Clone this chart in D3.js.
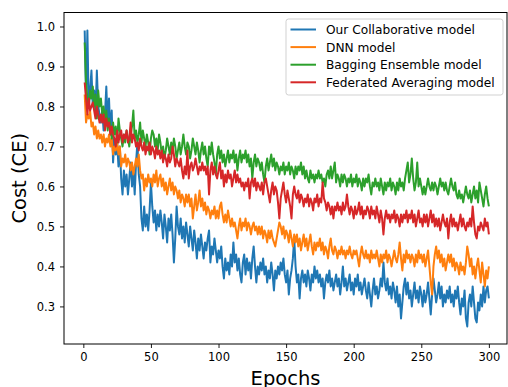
<!DOCTYPE html>
<html>
<head>
<meta charset="utf-8">
<script src="https://cdn.jsdelivr.net/npm/d3@7"></script>
<style>
  body { margin: 0; background: #fff; }
  text { font-family: "DejaVu Sans", sans-serif; }
</style>
</head>
<body>
<div id="chart"></div>
<script>
// Series names, colours and tick labels
const seriesNames = ['Our Collaborative model', 'DNN model', 'Bagging Ensemble model', 'Federated Averaging model']
const seriesColors = ['#1f77b4', '#ff7f0e', '#2ca02c', '#d62728']
const xTicks = [0, 50, 100, 150, 200, 250, 300]
const yTicks = [0.3, 0.4, 0.5, 0.6, 0.7, 0.8, 0.9, 1.0]

// Cost per epoch (1..300)
const collabCost = [
  .99,.82,.99,.80,.84,.89,.80,.84,.78,.89,
  .80,.78,.76,.79,.74,.78,.85,.76,.82,.73,
  .79,.66,.72,.68,.71,.65,.70,.62,.58,.64,
  .60,.63,.58,.62,.66,.60,.64,.58,.66,.71,
  .63,.60,.52,.49,.55,.50,.53,.49,.54,.61,
  .55,.51,.54,.49,.53,.50,.54,.51,.47,.53,
  .50,.46,.52,.49,.53,.48,.41,.47,.55,.50,
  .48,.52,.47,.50,.46,.51,.48,.45,.50,.47,
  .44,.49,.46,.42,.47,.44,.48,.45,.42,.46,
  .44,.47,.49,.41,.45,.43,.47,.44,.41,.44,
  .42,.45,.40,.37,.42,.39,.41,.38,.43,.40,
  .46,.41,.43,.39,.42,.38,.36,.41,.43,.38,
  .42,.39,.41,.37,.42,.45,.40,.36,.40,.38,
  .41,.39,.42,.38,.40,.36,.39,.37,.41,.38,
  .34,.39,.37,.40,.38,.41,.39,.42,.38,.36,
  .39,.33,.37,.39,.42,.47,.40,.36,.38,.32,
  .37,.39,.36,.38,.35,.39,.37,.34,.38,.36,
  .40,.37,.39,.36,.38,.35,.37,.32,.36,.38,
  .36,.39,.35,.37,.34,.36,.38,.35,.37,.33,
  .36,.40,.35,.37,.34,.36,.38,.34,.36,.33,
  .37,.35,.38,.34,.36,.33,.35,.37,.34,.32,
  .36,.33,.30,.34,.37,.33,.35,.32,.34,.37,
  .35,.41,.36,.34,.37,.33,.35,.32,.36,.34,
  .31,.35,.30,.33,.27,.31,.35,.37,.33,.36,
  .32,.34,.30,.33,.36,.32,.34,.31,.35,.33,
  .30,.34,.31,.33,.36,.32,.28,.33,.37,.34,
  .31,.33,.36,.32,.35,.30,.33,.31,.34,.32,
  .35,.31,.33,.30,.34,.32,.35,.31,.28,.32,
  .30,.34,.27,.25,.31,.33,.30,.35,.31,.27,
  .26,.31,.29,.33,.30,.35,.31,.34,.35,.32
]
const dnnCost = [
  .83,.76,.78,.77,.79,.75,.76,.73,.75,.72,
  .74,.72,.73,.71,.73,.70,.72,.71,.73,.70,
  .72,.68,.70,.69,.71,.68,.70,.65,.67,.66,
  .68,.65,.67,.66,.64,.66,.63,.65,.67,.65,
  .68,.64,.62,.63,.59,.62,.60,.63,.61,.62,
  .60,.63,.61,.64,.60,.62,.63,.60,.62,.59,
  .61,.58,.60,.62,.59,.61,.58,.60,.59,.57,
  .59,.56,.58,.57,.55,.58,.56,.58,.55,.57,
  .52,.55,.58,.54,.56,.59,.55,.57,.54,.56,
  .53,.55,.54,.52,.54,.53,.55,.52,.54,.52,
  .55,.56,.53,.51,.53,.51,.54,.52,.50,.52,
  .50,.51,.49,.47,.50,.52,.49,.51,.50,.52,
  .49,.51,.50,.48,.50,.51,.49,.50,.48,.50,
  .48,.50,.47,.49,.48,.46,.49,.47,.49,.47,
  .46,.45,.47,.49,.51,.50,.48,.50,.47,.49,
  .48,.46,.49,.47,.45,.48,.46,.48,.45,.47,
  .44,.46,.48,.45,.47,.44,.46,.48,.45,.43,
  .46,.44,.46,.45,.47,.44,.46,.43,.45,.44,
  .42,.45,.47,.44,.43,.45,.44,.42,.44,.43,
  .45,.43,.44,.42,.44,.43,.45,.43,.42,.44,
  .43,.44,.42,.40,.43,.45,.43,.42,.44,.42,
  .43,.41,.44,.42,.43,.42,.44,.42,.40,.43,
  .41,.43,.42,.44,.41,.43,.42,.40,.42,.44,
  .42,.41,.43,.46,.42,.39,.43,.41,.44,.42,
  .43,.41,.43,.42,.40,.43,.41,.44,.42,.43,
  .41,.43,.40,.42,.44,.40,.36,.33,.40,.43,
  .45,.42,.44,.41,.43,.40,.42,.39,.41,.43,
  .41,.43,.40,.42,.39,.41,.40,.38,.41,.39,
  .40,.38,.41,.45,.43,.40,.42,.38,.40,.37,
  .40,.42,.39,.36,.41,.38,.35,.39,.37,.40
]
const baggingCost = [
  .96,.86,.82,.80,.84,.82,.85,.80,.83,.77,
  .84,.80,.82,.78,.80,.76,.79,.74,.77,.75,
  .72,.76,.73,.75,.71,.77,.74,.72,.70,.73,
  .71,.74,.72,.70,.73,.75,.79,.72,.74,.71,
  .73,.76,.71,.74,.72,.70,.73,.71,.68,.72,
  .74,.73,.70,.72,.69,.73,.71,.68,.70,.67,
  .69,.72,.70,.68,.71,.69,.72,.70,.67,.69,
  .71,.68,.70,.73,.70,.68,.71,.70,.67,.69,
  .72,.70,.68,.71,.69,.66,.69,.71,.68,.70,
  .67,.65,.70,.68,.71,.68,.66,.63,.68,.70,
  .67,.69,.66,.68,.65,.67,.69,.66,.68,.67,
  .69,.66,.68,.64,.67,.69,.66,.68,.67,.69,
  .66,.68,.65,.67,.62,.66,.68,.65,.67,.66,
  .64,.66,.63,.61,.65,.67,.64,.66,.68,.65,
  .67,.64,.66,.65,.63,.65,.64,.66,.63,.65,
  .64,.66,.63,.65,.64,.62,.65,.63,.65,.64,
  .66,.63,.65,.62,.64,.62,.61,.64,.62,.63,
  .61,.63,.62,.64,.62,.63,.61,.62,.60,.63,
  .64,.62,.65,.62,.64,.66,.61,.63,.62,.60,
  .63,.61,.63,.62,.60,.62,.61,.63,.60,.62,
  .61,.63,.60,.62,.61,.59,.62,.60,.62,.61,
  .63,.60,.58,.61,.60,.62,.60,.61,.59,.62,
  .60,.58,.61,.59,.61,.60,.62,.59,.61,.60,
  .58,.61,.59,.62,.60,.61,.59,.62,.64,.66,
  .61,.63,.67,.62,.59,.61,.66,.60,.62,.60,
  .58,.60,.58,.60,.62,.60,.59,.61,.59,.61,
  .60,.58,.60,.62,.60,.61,.59,.61,.59,.58,
  .60,.62,.60,.59,.61,.58,.57,.59,.57,.58,
  .56,.58,.60,.58,.57,.59,.56,.58,.60,.57,
  .59,.56,.61,.59,.57,.55,.58,.60,.57,.55
]
const fedAvgCost = [
  .86,.82,.78,.82,.79,.80,.81,.79,.77,.80,
  .78,.76,.78,.76,.78,.74,.77,.75,.76,.73,
  .75,.73,.72,.70,.74,.71,.73,.74,.71,.73,
  .72,.74,.71,.72,.76,.71,.73,.72,.70,.71,
  .69,.72,.70,.69,.71,.68,.70,.69,.71,.68,
  .70,.69,.67,.70,.68,.69,.67,.69,.66,.68,
  .67,.65,.68,.66,.67,.70,.68,.65,.67,.66,
  .65,.67,.64,.62,.65,.63,.69,.62,.65,.66,
  .64,.65,.67,.65,.63,.65,.64,.66,.64,.65,
  .63,.65,.58,.64,.66,.63,.65,.63,.62,.64,
  .66,.62,.64,.60,.63,.61,.64,.62,.63,.60,
  .62,.64,.61,.63,.61,.62,.60,.61,.59,.61,
  .60,.62,.57,.61,.62,.60,.62,.59,.61,.60,
  .59,.61,.58,.61,.62,.60,.58,.56,.59,.61,
  .58,.60,.59,.56,.52,.57,.59,.61,.58,.56,
  .59,.57,.55,.52,.58,.60,.58,.57,.59,.56,
  .58,.57,.55,.57,.56,.58,.55,.57,.56,.54,
  .57,.56,.58,.55,.57,.56,.61,.57,.56,.54,
  .56,.55,.53,.55,.52,.55,.54,.56,.54,.55,
  .53,.56,.54,.55,.58,.55,.53,.55,.54,.52,
  .55,.53,.54,.56,.53,.55,.52,.54,.53,.55,
  .54,.52,.55,.53,.54,.52,.55,.53,.51,.54,
  .52,.48,.52,.54,.52,.53,.51,.53,.52,.54,
  .51,.53,.52,.50,.53,.51,.53,.52,.54,.51,
  .53,.52,.54,.51,.53,.50,.52,.54,.51,.52,
  .50,.53,.51,.53,.50,.52,.54,.51,.53,.50,
  .52,.50,.52,.49,.51,.53,.51,.50,.52,.47,
  .51,.53,.50,.52,.50,.51,.49,.51,.53,.50,
  .52,.50,.49,.51,.50,.52,.50,.55,.51,.48,
  .47,.50,.49,.51,.50,.49,.52,.50,.51,.48
]
const allSeries = [collabCost, dnnCost, baggingCost, fedAvgCost]

// canvas
const width = 508,
  height = 387
const plot = { left: 64, right: 507, top: 12.5, bottom: 344 }

const svg = d3.select('#chart')
  .append('svg')
  .attr('width', width)
  .attr('height', height)

const x = d3.scaleLinear().domain([-14.3, 313.4]).range([plot.left, plot.right])
const y = d3.scaleLinear().domain([0.206, 1.035]).range([plot.bottom, plot.top])

svg.append('clipPath')
  .attr('id', 'clip')
  .append('rect')
  .attr('x', plot.left)
  .attr('y', plot.top)
  .attr('width', plot.right - plot.left)
  .attr('height', plot.bottom - plot.top)

// lines
const line = d3.line()
  .x((d, i) => x(i + 1))
  .y(d => y(d))

svg.append('g')
  .attr('clip-path', 'url(#clip)')
  .selectAll('path')
  .data(allSeries)
  .enter()
  .append('path')
  .attr('d', line)
  .attr('fill', 'none')
  .attr('stroke', (d, i) => seriesColors[i])
  .attr('stroke-width', 2)
  .attr('stroke-linejoin', 'round')

// axes
const xAxis = svg.append('g')
  .attr('transform', `translate(0, ${plot.bottom})`)
  .call(d3.axisBottom(x).tickValues(xTicks).tickSize(4).tickPadding(5).tickSizeOuter(0))
const yAxis = svg.append('g')
  .attr('transform', `translate(${plot.left}, 0)`)
  .call(d3.axisLeft(y).tickValues(yTicks).tickFormat(d3.format('.1f')).tickSize(4).tickPadding(5).tickSizeOuter(0))

for (const ax of [xAxis, yAxis]) {
  ax.select('.domain').remove()
  ax.selectAll('text').attr('font-size', 11.5).attr('font-family', 'DejaVu Sans').attr('fill', '#000')
  ax.selectAll('line').attr('stroke', '#000').attr('stroke-width', 0.9)
}

// frame
svg.append('rect')
  .attr('x', plot.left)
  .attr('y', plot.top)
  .attr('width', plot.right - plot.left)
  .attr('height', plot.bottom - plot.top)
  .attr('fill', 'none')
  .attr('stroke', '#000')
  .attr('stroke-width', 1)

// axis titles
svg.append('text')
  .attr('x', (plot.left + plot.right) / 2)
  .attr('y', 385)
  .attr('text-anchor', 'middle')
  .attr('font-size', 19.5)
  .text('Epochs')

svg.append('text')
  .attr('transform', `translate(26, ${(plot.top + plot.bottom) / 2}) rotate(-90)`)
  .attr('text-anchor', 'middle')
  .attr('font-size', 19.5)
  .text('Cost (CE)')

// legend
const legend = svg.append('g').attr('transform', 'translate(286, 19)')
legend.append('rect')
  .attr('width', 217)
  .attr('height', 76)
  .attr('rx', 2.5)
  .attr('fill', '#fff')
  .attr('fill-opacity', 0.8)
  .attr('stroke', '#cccccc')
  .attr('stroke-width', 0.9)

const rows = legend.selectAll('g.row')
  .data(seriesNames)
  .enter()
  .append('g')
  .attr('class', 'row')
  .attr('transform', (d, i) => `translate(0, ${10.5 + i * 17.6})`)
rows.append('line')
  .attr('x1', 4.5)
  .attr('x2', 30)
  .attr('stroke', (d, i) => seriesColors[i])
  .attr('stroke-width', 2)
rows.append('text')
  .attr('x', 40)
  .attr('dy', '0.36em')
  .attr('font-size', 12.2)
  .text(d => d)
</script>
</body>
</html>
